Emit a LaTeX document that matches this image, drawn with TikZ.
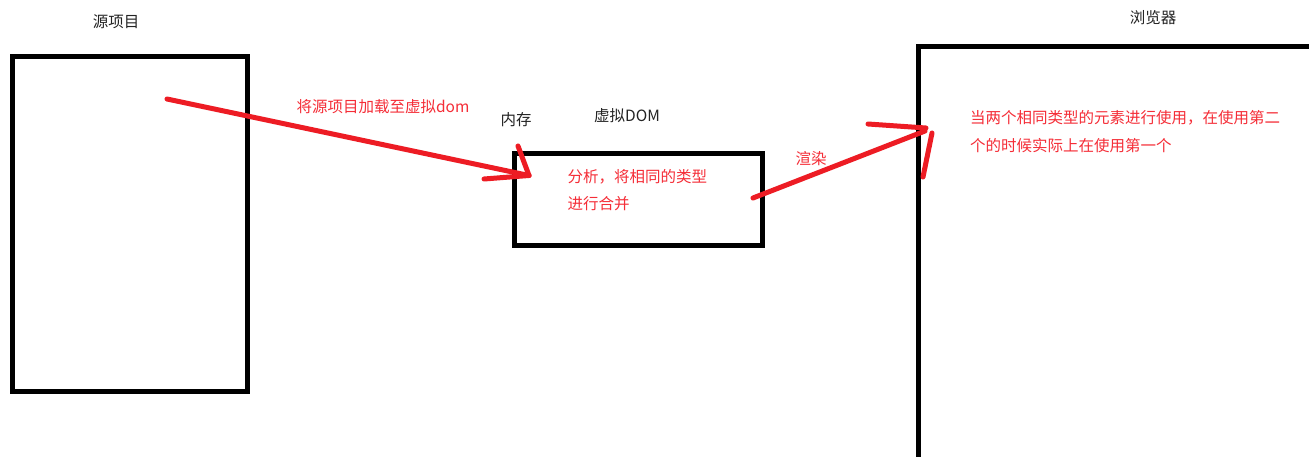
\documentclass[tikz,border=0pt]{standalone}
\usepackage{fontspec}
\setmainfont{Noto Sans CJK SC}
\definecolor{penred}{RGB}{237,28,36}
\definecolor{txtred}{RGB}{245,45,55}
\definecolor{txtdark}{RGB}{35,35,35}
\begin{document}
\begin{tikzpicture}[x=1pt,y=-1pt,
  box/.style={draw=black,line width=5pt,fill=none,inner sep=0pt,outer sep=0pt},
  title/.style={text=txtdark,font=\fontsize{15.5}{18}\selectfont,inner sep=0pt},
  note/.style={text=txtred,font=\fontsize{15.5}{18}\selectfont,inner sep=0pt},
  pen/.style={draw=penred,line width=5pt,line cap=round,line join=round}]
\clip (0,0) rectangle (1309,457);
\fill[white] (0,0) rectangle (1309,457);
% boxes
\node[box,minimum width=235.5pt,minimum height=334pt] (src) at (129.75,224) {};
\node[box,minimum width=248.5pt,minimum height=91pt] (vdom) at (638.25,199.5) {};
\node[box,minimum width=412pt,minimum height=433pt] (browser) at (1124,263.5) {};
% titles
\node[title] (srcT) at (116,22) {源项目};
\node[title] (browserT) at (1153,18) {浏览器};
\node[title] (memT) at (516,120) {内存};
\node[title] (vdomT) at (627,116) {虚拟DOM};
% notes
\node[note] (loadT) at (383,107) {将源项目加载至虚拟dom};
\node[note,anchor=west] (anaT1) at (567.5,177) {分析，将相同的类型};
\node[note,anchor=west] (anaT2) at (567.5,203.3) {进行合并};
\node[note] (renderT) at (811,159) {渲染};
\node[note,anchor=west] (bT1) at (970,117.8) {当两个相同类型的元素进行使用，在使用第二};
\node[note,anchor=west] (bT2) at (970,145.5) {个的时候实际上在使用第一个};
% arrow 1
\coordinate (a1s) at (167,99);
\coordinate (a1e) at (529,175.5);
\coordinate (h1a) at (518,146);
\coordinate (h1b) at (484,179);
\draw[pen] (a1s) -- (a1e);
\draw[pen] (h1a) -- (a1e);
\draw[pen] (h1b) -- (a1e);
% arrow 2
\coordinate (a2s) at (753,198);
\coordinate (a2e) at (925,131);
\coordinate (h2a) at (868,124);
\coordinate (h2t) at (926,128);
\coordinate (h2b) at (932,133);
\coordinate (h2c) at (923,177);
\draw[pen] (a2s) -- (a2e);
\draw[pen] (h2a) -- (h2t);
\draw[pen] (h2b) -- (h2c);
\end{tikzpicture}
\end{document}
